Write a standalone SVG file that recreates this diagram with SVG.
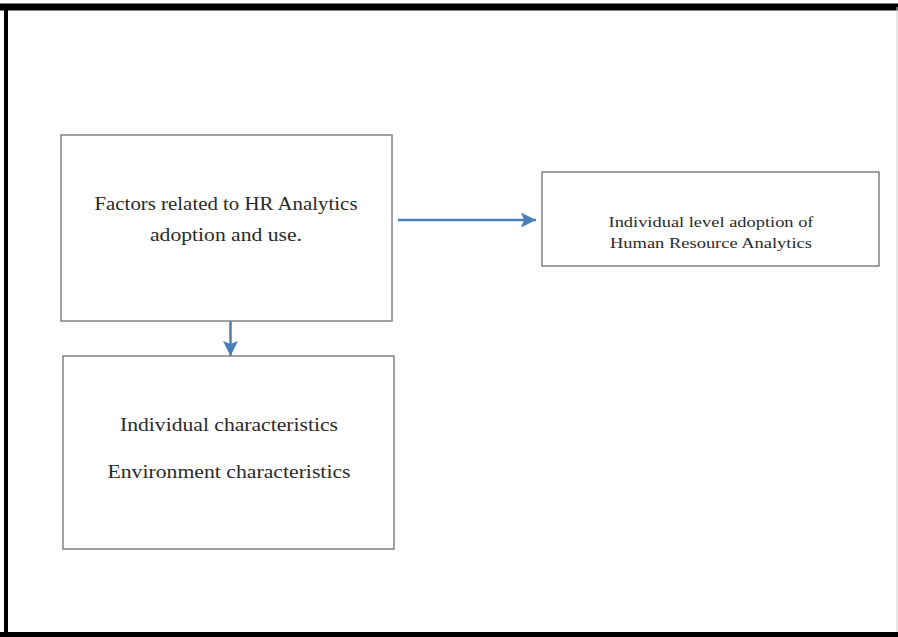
<svg xmlns="http://www.w3.org/2000/svg" width="898" height="637" viewBox="0 0 898 637">
<style>
.box{fill:#fff;stroke:#808080;stroke-width:1.5}
.t{font-family:"Liberation Serif","DejaVu Serif",serif;fill:#2a2a2a;text-anchor:middle}
.conn{stroke:#4a7ebb;stroke-width:2.5;fill:none}
</style>
<defs>
<marker id="ah" viewBox="0 0 10 10" refX="10" refY="5" markerWidth="6" markerHeight="6" orient="auto" markerUnits="strokeWidth">
<path d="M0,0 L10,5 L0,10 L2,5 Z" fill="#4a7ebb"/>
</marker>
</defs>
<rect width="898" height="637" fill="#fff"/>
<g id="frame">
<line x1="0" y1="7" x2="898" y2="7" stroke="#000" stroke-width="7"/>
<line x1="6" y1="7" x2="6" y2="637" stroke="#000" stroke-width="4"/>
<line x1="0" y1="634.5" x2="898" y2="634.5" stroke="#000" stroke-width="5"/>
<line x1="897" y1="7" x2="897" y2="632" stroke="#ccc" stroke-width="1"/>
</g>
<g id="connectors">
<line class="conn" x1="398" y1="220" x2="536" y2="220" marker-end="url(#ah)"/>
<line class="conn" x1="230.5" y1="315" x2="230.5" y2="356" marker-end="url(#ah)"/>
</g>
<g id="factors">
<rect class="box" x="61" y="135" width="331" height="186"/>
<text class="t" x="226" y="210" font-size="19" textLength="263" lengthAdjust="spacingAndGlyphs">Factors related to HR Analytics</text>
<text class="t" x="226" y="241" font-size="19" textLength="152" lengthAdjust="spacingAndGlyphs">adoption and use.</text>
</g>
<g id="adoption">
<rect class="box" x="542" y="172" width="337" height="94"/>
<text class="t" x="711" y="227" font-size="15.5" textLength="205" lengthAdjust="spacingAndGlyphs">Individual level adoption of</text>
<text class="t" x="711" y="248" font-size="15.5" textLength="202" lengthAdjust="spacingAndGlyphs">Human Resource Analytics</text>
</g>
<g id="characteristics">
<rect class="box" x="63" y="356" width="331" height="193"/>
<text class="t" x="229" y="431" font-size="19" textLength="218" lengthAdjust="spacingAndGlyphs">Individual characteristics</text>
<text class="t" x="229" y="478" font-size="19" textLength="243" lengthAdjust="spacingAndGlyphs">Environment characteristics</text>
</g>
</svg>
